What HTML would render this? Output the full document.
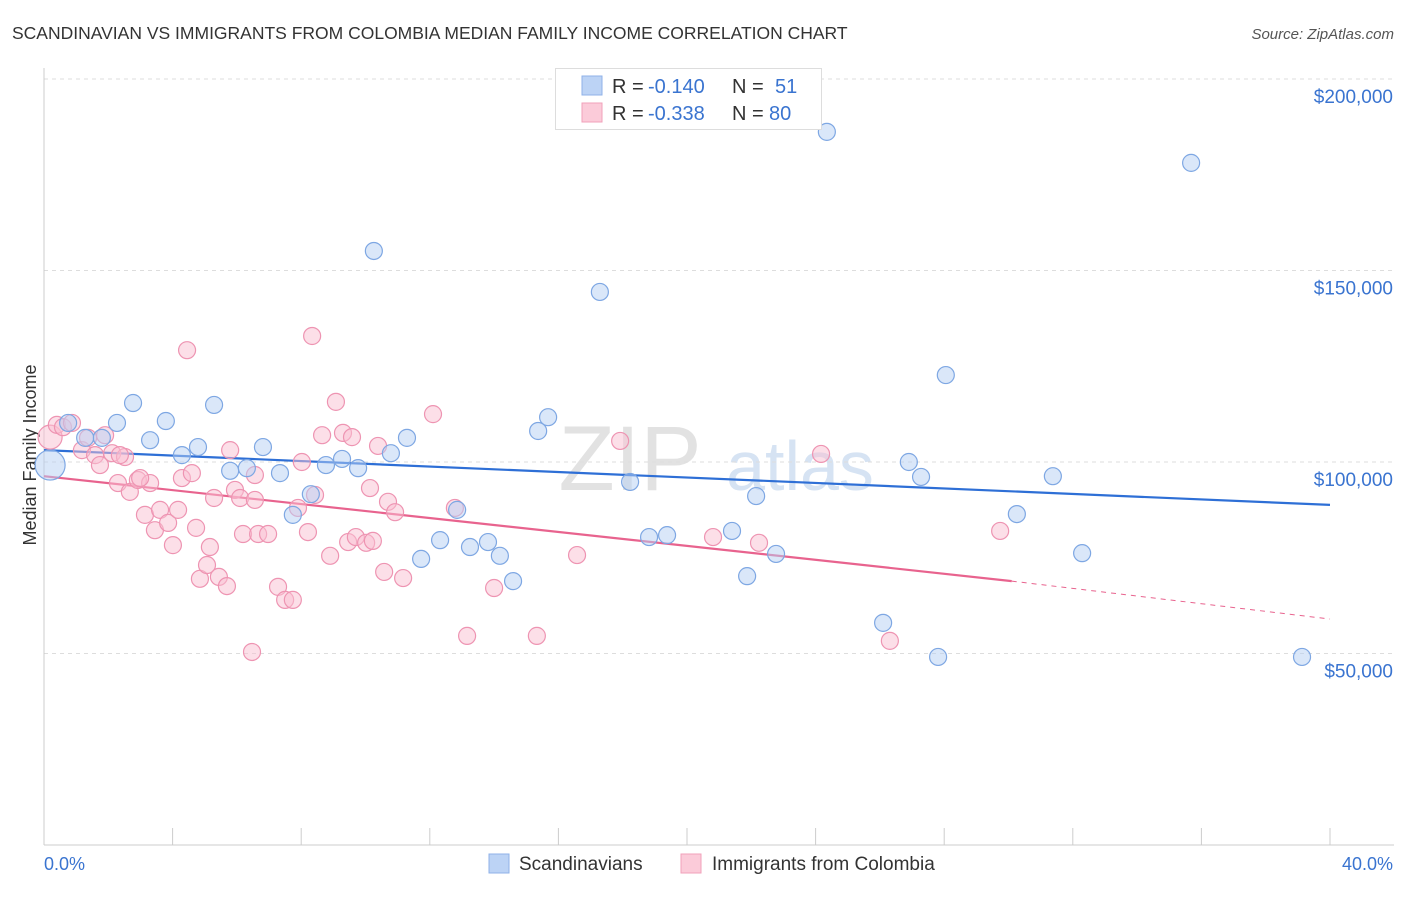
<!DOCTYPE html>
<html><head><meta charset="utf-8"><style>
body{margin:0;background:#fff;font-family:"Liberation Sans",sans-serif;}
svg text{font-family:"Liberation Sans",sans-serif;}
</style></head><body>
<svg id="c" width="1406" height="892">
<text x="12" y="39" font-size="17.5" fill="#333">SCANDINAVIAN VS IMMIGRANTS FROM COLOMBIA MEDIAN FAMILY INCOME CORRELATION CHART</text>
<text x="1394" y="39" font-size="15" fill="#555" font-style="italic" text-anchor="end">Source: ZipAtlas.com</text>
<text x="36" y="455" font-size="18" fill="#333" text-anchor="middle" transform="rotate(-90 36 455)">Median Family Income</text>
<g><text x="630" y="490" font-size="92" fill="#e2e2e2" font-family="Liberation Serif" text-anchor="middle">ZIP</text><text x="800" y="490" font-size="70" fill="#d6e3f3" text-anchor="middle">atlas</text></g>
<g id="grid"></g><g id="lines"></g><g id="pts"></g>
<g>
<rect x="555.5" y="68.5" width="266" height="61" fill="#fff" stroke="#ddd"/>
<rect x="582" y="76" width="20" height="19" fill="#bcd3f5" stroke="#8fb2e8"/>
<rect x="582" y="103" width="20" height="19" fill="#fbcbd9" stroke="#f0a0ba"/>
<text x="612" y="93" font-size="20" fill="#333">R =</text>
<text x="648" y="93" font-size="20" fill="#3a74d0">-0.140</text>
<text x="732" y="93" font-size="20" fill="#333">N =</text>
<text x="775" y="93" font-size="20" fill="#3a74d0">51</text>
<text x="612" y="120" font-size="20" fill="#333">R =</text>
<text x="648" y="120" font-size="20" fill="#3a74d0">-0.338</text>
<text x="732" y="120" font-size="20" fill="#333">N =</text>
<text x="769" y="120" font-size="20" fill="#3a74d0">80</text>
</g>
<g>
<rect x="489" y="854" width="20" height="19" fill="#bcd3f5" stroke="#8fb2e8"/>
<text x="519" y="870" font-size="19" fill="#333">Scandinavians</text>
<rect x="681" y="854" width="20" height="19" fill="#fbcbd9" stroke="#f0a0ba"/>
<text x="712" y="870" font-size="19" fill="#333">Immigrants from Colombia</text>
</g>
<text x="44" y="870" font-size="18" fill="#3a74d0">0.0%</text>
<text x="1393" y="870" font-size="18" fill="#3a74d0" text-anchor="end">40.0%</text>
</svg>
<script>
const yTicks=[50,100,150,200];
const yTickLabels=["$50,000","$100,000","$150,000","$200,000"];
const xTicks=[0,4,8,12,16,20,24,28,32,36,40];
const blueX=[0.19,0.75,1.28,1.80,2.27,2.77,3.30,3.79,4.29,4.79,5.29,5.79,6.31,6.81,7.34,7.74,8.30,8.77,9.27,9.77,10.26,10.79,11.29,11.73,12.32,12.85,13.25,13.81,14.18,14.59,15.37,15.68,17.29,18.23,18.82,19.38,21.40,21.87,22.15,22.77,24.35,26.10,26.90,27.28,27.81,28.05,30.26,31.38,32.29,35.68,39.13];
const blueY=[99.2,110.2,106.3,106.3,110.2,115.4,105.7,110.7,101.8,103.9,114.9,97.7,98.4,103.9,97.1,86.2,91.6,99.2,100.8,98.4,155.1,102.3,106.3,74.7,79.6,87.5,77.8,79.1,75.5,68.9,108.1,111.7,144.4,94.8,80.4,80.9,82.0,70.2,91.1,76.0,186.2,58.0,100.0,96.1,49.1,122.7,86.4,96.3,76.2,178.1,49.1];
const pinkX=[0.19,0.40,0.59,0.87,1.18,1.37,1.59,1.74,1.90,2.12,2.30,2.52,2.67,2.92,3.14,3.30,3.45,3.61,3.86,4.01,4.17,4.29,4.45,4.60,4.73,4.85,5.07,5.16,5.29,5.44,5.69,5.79,5.94,6.10,6.19,6.47,6.56,6.66,6.97,7.28,7.50,7.74,7.90,8.02,8.21,8.34,8.43,8.65,8.90,9.08,9.30,9.46,9.58,9.70,10.02,10.14,10.23,10.39,10.58,10.70,10.92,11.17,12.10,13.16,14.00,15.33,16.58,17.92,20.81,22.24,24.17,26.31,29.74,2.36,2.99,6.56,12.78];
const pinkY=[106.5,109.7,109.1,110.2,103.1,106.3,101.8,99.2,107.0,102.3,94.5,101.3,92.2,95.3,86.2,94.5,82.2,87.5,84.1,78.3,87.5,95.8,129.2,97.1,82.8,69.5,73.1,77.8,90.6,70.0,67.6,103.1,92.7,90.6,81.2,50.4,90.1,81.2,81.2,67.4,64.0,64.0,88.0,100.0,81.7,132.9,91.4,107.0,75.5,115.7,107.6,79.1,106.5,80.4,78.9,93.2,79.4,104.2,71.3,89.6,86.9,69.7,112.5,54.6,67.1,54.6,75.7,105.5,80.4,78.9,102.1,53.3,82.0,101.8,95.8,96.6,88.0];
const blueFitX=[0,40], blueFitY=[103.1,88.8];
const pinkFitX=[0,30.1,40], pinkFitY=[96.3,68.9,59.0];
const X=v=>44+v*1286/40, Y=v=>845-v*383/100;
const NS="http://www.w3.org/2000/svg";
function mk(t,a,p){const e=document.createElementNS(NS,t);for(const k in a)e.setAttribute(k,a[k]);p.appendChild(e);return e;}
const g=document.getElementById('grid');
yTicks.forEach((t,i)=>{
 const l=mk('line',{x1:44,x2:1394,y1:Y(t),y2:Y(t),stroke:'#ddd','stroke-dasharray':'4,4'},g);
 
 
 const tx=mk('text',{x:1393,y:Y(t)+24,'font-size':19,fill:'#3a74d0','text-anchor':'end'},g);tx.textContent=yTickLabels[i];
 
 
});
mk('line',{x1:44,x2:44,y1:68,y2:845,stroke:'#ccc'},g);
mk('line',{x1:44,x2:1394,y1:845,y2:845,stroke:'#ccc'},g);
xTicks.forEach(t=>{const l=mk('line',{x1:X(t),x2:X(t),y1:828,y2:845,stroke:'#ccc'},g);
 
 });
const pg=document.getElementById('pts');
function pts(xs,ys,fill,stroke,name,big){xs.forEach((x,i)=>{const c=mk('circle',{cx:X(x),cy:Y(ys[i]),r:i==0?big:8.5,fill:fill,'fill-opacity':0.5,stroke:stroke,'stroke-width':1.2},pg);
 
 });}
pts(pinkX,pinkY,'#f9c0d2','#ee94b2','colombia-point',12);
pts(blueX,blueY,'#b5cff3','#7ea7e3','scandinavian-point',15);
const lg=document.getElementById('lines');
const bl=mk('line',{x1:X(blueFitX[0]),y1:Y(blueFitY[0]),x2:X(blueFitX[1]),y2:Y(blueFitY[1]),stroke:'#2e6fd6','stroke-width':2.2},lg);


const pl=mk('line',{x1:X(pinkFitX[0]),y1:Y(pinkFitY[0]),x2:X(pinkFitX[1]),y2:Y(pinkFitY[1]),stroke:'#e8638e','stroke-width':2.2},lg);


const pd=mk('line',{x1:X(pinkFitX[1]),y1:Y(pinkFitY[1]),x2:X(pinkFitX[2]),y2:Y(pinkFitY[2]),stroke:'#e8638e','stroke-width':1,'stroke-dasharray':'5,5'},lg);


</script>
</body></html>
